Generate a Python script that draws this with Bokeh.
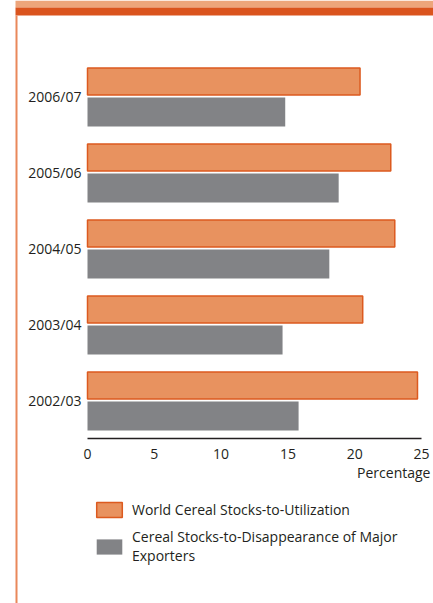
from bokeh.plotting import figure
from bokeh.models import (Range1d, FixedTicker, Legend, LegendItem, Label,
                          BoxAnnotation)
from bokeh.embed import file_html
from bokeh.resources import INLINE

# ---- data ----
seasons = ["2002/03", "2003/04", "2004/05", "2005/06", "2006/07"]
world_stocks_to_util = [24.7, 20.6, 23.0, 22.7, 20.4]
exporters_stocks_to_disapp = [15.8, 14.6, 18.1, 18.8, 14.8]
x_ticks = [0, 5, 10, 15, 20, 25]
series_names = ["World Cereal Stocks-to-Utilization",
                "Cereal Stocks-to-Disappearance of Major\nExporters"]
x_axis_title = "Percentage"

FONT = "Open Sans"
TXT = "#231F20"
ORANGE = "#E8925F"
ORANGE_LINE = "#DC5A1F"
GRAY = "#828386"

# frame covers the whole canvas; axes are drawn at fixed locations inside it
p = figure(width=433, height=603, output_backend="svg", toolbar_location=None,
           x_range=Range1d(-6.512, 25.898), y_range=Range1d(-2.671, 5.263),
           min_border=0, min_border_left=0, min_border_right=0,
           min_border_top=0, min_border_bottom=0)
p.outline_line_color = None
p.grid.grid_line_color = None
p.background_fill_color = "white"
p.border_fill_color = "white"

ypos = list(range(len(seasons)))
r1 = p.hbar(y=[y + 0.197 for y in ypos], right=world_stocks_to_util, left=0,
            height=0.355, fill_color=ORANGE, line_color=ORANGE_LINE, line_width=1.5)
r2 = p.hbar(y=[y - 0.204 for y in ypos], right=exporters_stocks_to_disapp, left=0,
            height=0.38, fill_color=GRAY, line_color=None)

xa = p.xaxis[0]
xa.fixed_location = -0.5
xa.bounds = (0, 25)
xa.ticker = FixedTicker(ticks=x_ticks)
xa.axis_line_color = TXT
xa.axis_line_width = 1.5
xa.major_tick_line_color = None
xa.major_tick_out = 0
xa.major_tick_in = 0
xa.minor_tick_line_color = None
xa.major_label_text_font = FONT
xa.major_label_text_font_size = "14px"
xa.major_label_text_color = TXT
xa.major_label_standoff = 11

ya = p.yaxis[0]
ya.fixed_location = 0
ya.ticker = FixedTicker(ticks=ypos)
ya.major_label_overrides = {i: s for i, s in enumerate(seasons)}
ya.axis_line_color = None
ya.major_tick_line_color = None
ya.major_tick_out = 0
ya.major_tick_in = 0
ya.minor_tick_line_color = None
ya.major_label_text_font = FONT
ya.major_label_text_font_size = "14px"
ya.major_label_text_color = TXT
ya.major_label_standoff = 6

p.add_layout(Label(x=25.67, y=-0.947, text=x_axis_title, text_font=FONT,
                   text_font_size="14px", text_color=TXT,
                   text_align="right", text_baseline="middle"))

legend = Legend(items=[LegendItem(label=series_names[0], renderers=[r1]),
                       LegendItem(label=series_names[1], renderers=[r2])],
                location=(93, 38), orientation="vertical",
                glyph_width=32, glyph_height=19, label_height=20,
                label_standoff=7, spacing=8, padding=0, margin=0,
                border_line_color=None, background_fill_alpha=0,
                label_text_font=FONT, label_text_font_size="14px",
                label_text_color=TXT)
p.add_layout(legend, "center")

# decorative page frame
p.add_layout(BoxAnnotation(left=15, right=433, top=0, bottom=7,
                           left_units="canvas", right_units="canvas",
                           top_units="canvas", bottom_units="canvas",
                           fill_color="#EDA57B", fill_alpha=1, line_color=None))
p.add_layout(BoxAnnotation(left=15, right=433, top=7, bottom=15,
                           left_units="canvas", right_units="canvas",
                           top_units="canvas", bottom_units="canvas",
                           fill_color="#DA541E", fill_alpha=1, line_color=None))
p.add_layout(BoxAnnotation(left=15, right=17, top=15, bottom=603,
                           left_units="canvas", right_units="canvas",
                           top_units="canvas", bottom_units="canvas",
                           fill_color="#E9885B", fill_alpha=1, line_color=None))

open("out.html", "w").write(file_html(p, INLINE))
